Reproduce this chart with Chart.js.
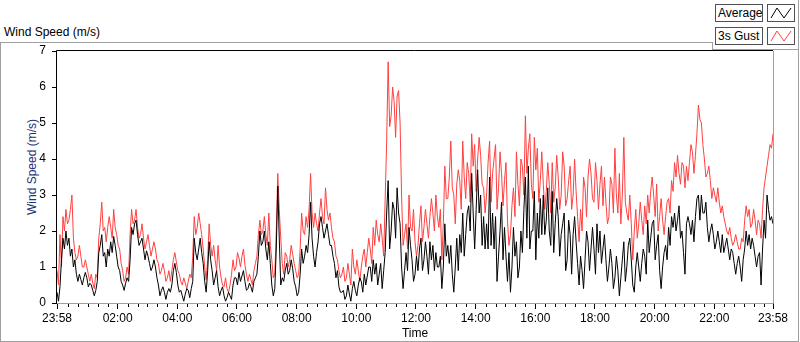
<!DOCTYPE html>
<html>
<head>
<meta charset="UTF-8">
<title>Wind Speed (m/s)</title>
<script src="https://cdn.jsdelivr.net/npm/chart.js"></script>
<style>
    body {
        margin: 0;
        width: 800px;
        height: 342px;
        position: relative;
        overflow: hidden;
        background: #fff;
        font-family: "Liberation Sans", Arial, sans-serif;
        font-size: 12px;
        color: #000;
    }
    #frame {
        position: absolute;
        left: 0; top: 42px;
        width: 799px; height: 300px;
        box-sizing: border-box;
        border: 1px solid #a0a0a0;
    }
    #legendPanel {
        position: absolute;
        left: 712px; top: 0;
        width: 87px; height: 50px;
        box-sizing: border-box;
        background: #fff;
        border-right: 1px solid #a0a0a0;
        border-bottom: 1px solid #a0a0a0;
    }
    #legendPanel .notch {
        position: absolute; left: 0; top: 42px; width: 1px; height: 7px; background: #a0a0a0;
    }
    .lbox {
        position: absolute;
        box-sizing: border-box;
        height: 18px;
        border: 1px solid #505050;
        background: #fff;
    }
    .lbox.text { width: 48px; padding-left: 2px; line-height: 16px; }
    .lbox.line { width: 28px; }
    #title { position: absolute; left: 4px; top: 25px; }
    #ytitle {
        position: absolute;
        left: 32px; top: 167px;
        transform: translate(-50%, -50%) rotate(-90deg);
        white-space: nowrap;
        color: #1c3278;
    }
    #chart { position: absolute; left: 0; top: 0; }
</style>
</head>
<body>
<div id="frame"></div>
<div id="title">Wind Speed (m/s)</div>
<div id="legendPanel">
    <div class="notch"></div>
    <div class="lbox text" style="left:3px; top:4px;">Average</div>
    <div class="lbox line" style="left:55px; top:4px;">
        <svg width="26" height="16"><polyline points="3,13 9,3 16,13 23,3" fill="none" stroke="#000" stroke-width="1"/></svg>
    </div>
    <div class="lbox text" style="left:3px; top:27px;">3s Gust</div>
    <div class="lbox line" style="left:55px; top:27px;">
        <svg width="26" height="16"><polyline points="3,13 9,3 16,13 23,3" fill="none" stroke="#ff4040" stroke-width="1"/></svg>
    </div>
</div>
<div id="ytitle">Wind Speed (m/s)</div>
<canvas id="chart" width="800" height="342"></canvas>
<script>
    // readings every 3 minutes, from 23:58 (minute 0) to 23:58 the next day (minute 1440)
    const STEP = 3;

    const average = [
        0.3,0.05, 0.45,1.2, 1.8,1.5, 2.0,1.6, 1.8,1.3, 1.5,1.0, 1.2,0.8, 0.6,0.8, 0.65,0.5, 0.7,0.85,
        0.7,0.45, 0.55,0.5, 0.35,0.2, 0.35,0.6, 1.4,1.6, 1.9,1.3, 1.4,1.0, 1.5,1.3, 1.7,1.4, 1.85,1.6,
        1.3,1.0, 0.9,0.6, 0.5,0.35, 0.55,0.7, 0.6,1.2, 2.1,1.9, 2.2,2.3, 1.9,1.6, 1.7,1.8, 1.5,1.2,
        1.45,1.3, 1.1,0.9, 1.0,1.2, 1.0,0.7, 0.5,0.2, 0.35,0.45, 0.3,0.1, 0.3,0.4, 0.3,0.5, 0.9,1.1,
        0.85,0.5, 0.3,0.35, 0.2,0.05, 0.25,0.4, 0.35,0.15, 0.4,0.6, 1.8,1.4, 1.2,1.5,
        1.8,1.4, 1.1,0.6, 0.3,0.9, 1.7,1.2, 0.9,0.5, 0.7,0.9, 0.45,0.2, 0.35,0.45, 0.2,0.05, 0.15,0.3,
        0.2,0.1, 0.5,0.7, 0.7,0.5, 0.85,0.6, 0.75,0.9, 0.6,0.35, 0.4,0.55, 0.45,0.3, 0.6,0.7, 0.8,1.3,
        2.0,1.6, 1.7,2.0, 1.5,1.2, 1.7,1.1, 0.5,0.2, 0.4,1.5, 3.25,1.8, 0.5,0.7, 0.6,0.9, 1.1,0.8,
        0.9,1.2, 0.95,0.6, 0.45,0.2, 0.3,0.8, 1.5,1.1, 1.3,1.6, 1.4,1.9, 2.8,1.8, 1.3,1.0, 1.4,1.7,
        2.2,2.4, 2.1,1.8, 2.0,2.2, 1.9,1.6, 1.6,1.3, 1.1,0.7, 0.9,0.45, 0.3,0.3,
        0.35,0.1, 0.2,0.5, 0.25,0.05, 0.4,0.6, 0.35,0.2, 0.5,0.7, 0.6,0.3, 0.8,0.5, 0.75,1.0, 1.0,0.6,
        1.2,0.8, 1.1,0.5, 0.8,1.1, 0.4,0.9, 1.4,2.5, 3.4,1.5, 2.0,2.8, 2.6,1.8, 3.2,2.5, 2.2,1.0,
        0.4,0.9, 1.4,0.9, 2.1,1.6, 1.2,0.6, 0.8,1.3, 0.9,1.5, 1.8,0.9, 1.2,1.7, 1.3,0.8, 1.7,1.2,
        1.6,0.9, 1.4,1.0, 1.0,1.3, 0.4,1.0, 2.2,1.3, 1.6,1.1, 1.6,0.8, 0.3,1.0, 1.8,0.9, 1.9,1.4,
        2.5,1.3, 1.9,2.5, 2.7,2.0, 3.6,2.5, 1.5,2.6, 3.7,2.5, 3.0,1.6, 2.4,1.5,
        2.2,1.5, 3.5,1.6, 2.5,1.5, 2.4,0.6, 1.3,2.0, 2.8,1.2, 2.1,1.3, 0.6,1.4, 0.3,1.0, 2.1,1.3,
        1.7,0.7, 1.0,2.0, 1.4,2.6, 3.5,1.8, 3.8,1.5, 2.0,2.0, 3.1,1.2, 2.5,1.8, 2.9,1.9, 3.0,1.9,
        2.3,3.2, 2.0,1.6, 3.1,1.4, 2.2,2.9, 2.4,1.3, 1.9,2.2, 2.5,0.9, 1.2,2.3, 1.9,0.8, 1.9,2.4,
        1.7,1.1, 0.5,1.3, 0.9,0.4, 1.2,2.0, 1.7,0.9, 1.5,2.1, 1.5,0.8, 2.2,1.4, 2.0,1.1, 1.5,1.9,
        1.2,0.6, 1.0,1.5, 1.1,0.4, 0.7,1.3, 0.9,0.2, 0.7,1.2, 1.7,0.6, 1.0,1.6,
        1.8,1.2, 0.5,0.3, 1.0,1.4, 1.0,0.6, 1.1,1.5, 1.3,0.8, 2.3,1.4, 1.8,2.2, 2.3,1.2, 1.6,1.9,
        0.9,0.4, 1.0,1.4, 1.6,1.2, 2.1,1.6, 2.4,2.1, 2.5,2.0, 2.3,2.7, 1.8,2.0, 1.4,0.8, 2.2,2.4,
        2.2,1.9, 2.3,1.7, 2.4,2.9, 3.0,2.3, 3.0,2.5, 2.5,2.8, 2.1,1.7, 2.0,2.2, 1.9,1.5, 1.7,2.0,
        1.7,1.4, 1.9,1.4, 1.6,1.8, 1.5,1.2, 1.5,1.4, 1.1,0.8, 1.1,1.3, 1.0,0.6, 1.2,1.5, 2.0,1.6,
        1.9,1.5, 1.8,1.6, 1.3,1.0, 1.3,1.4, 0.5,1.5, 2.3,1.8, 3.0,2.6, 2.3,2.4, 2.2
    ];

    const gust = [
        0.9,0.5, 1.9,1.0, 2.4,2.0, 2.6,2.2, 2.3,2.6, 3.0,1.8, 1.4,1.2, 1.3,1.6, 1.3,1.0, 1.0,1.2,
        1.0,0.8, 0.6,0.8, 0.55,0.4, 0.8,0.7, 1.8,2.2, 2.8,2.0, 2.1,1.7, 2.1,2.4, 2.1,1.8, 2.6,2.1,
        1.9,1.6, 1.5,1.1, 0.9,0.6, 0.7,1.0, 0.8,1.9, 2.6,2.2, 2.3,2.6, 2.1,1.8, 1.9,2.2, 1.8,1.5,
        1.7,1.9, 1.6,1.3, 1.5,1.7, 1.5,1.2, 1.1,0.8, 0.9,1.1, 0.9,0.6, 0.7,0.9, 0.6,0.9, 1.2,1.4,
        1.15,0.9, 0.8,0.6, 0.5,0.7, 0.55,0.4, 0.6,0.8, 0.7,1.3, 2.4,1.9, 2.1,2.5,
        2.2,1.9, 1.5,1.0, 0.65,1.2, 2.2,1.6, 1.3,1.6, 1.2,0.9, 1.6,1.0, 0.7,0.5, 0.45,0.7, 0.4,0.3,
        0.5,0.8, 1.2,0.9, 1.0,1.4, 1.25,1.0, 1.3,1.5, 1.05,0.8, 0.6,0.8, 0.65,0.5, 0.9,1.1, 1.3,1.9,
        2.3,1.9, 2.0,2.4, 1.9,1.6, 2.5,1.6, 1.2,0.7, 0.8,2.0, 3.6,2.6, 1.8,1.1, 0.8,1.4, 1.3,1.0,
        1.2,1.6, 1.35,1.1, 0.9,0.7, 0.8,1.5, 2.5,2.0, 1.9,2.4, 2.1,2.6, 3.6,2.5, 2.1,2.5, 2.2,2.0,
        2.5,2.9, 2.4,2.2, 3.2,2.6, 2.3,2.5, 2.1,1.8, 1.7,1.3, 1.2,0.9, 0.7,0.8,
        1.0,0.6, 0.7,1.1, 0.8,0.5, 1.5,1.0, 0.8,1.2, 0.9,0.6, 1.0,1.3, 1.5,1.0, 1.4,1.8, 1.5,1.1,
        2.1,1.6, 2.3,1.9, 1.7,2.2, 1.8,1.3, 2.9,4.5, 6.7,4.9, 5.2,6.0, 5.6,4.6, 5.75,5.9, 5.0,3.0,
        1.6,1.9, 2.2,1.5, 3.0,2.1, 2.0,2.6, 1.7,1.3, 1.6,2.2, 2.7,1.7, 2.1,2.6, 2.2,1.8, 2.4,2.9,
        2.5,2.0, 3.0,2.4, 2.1,2.6, 1.2,2.2, 3.8,2.9, 2.9,3.5, 4.5,3.2, 3.0,2.2, 3.3,3.7, 3.4,2.6,
        4.5,3.5, 2.9,3.9, 3.6,2.8, 4.7,3.8, 4.4,3.1, 4.0,4.6, 4.1,3.3, 3.2,2.5,
        3.0,3.9, 4.5,2.8, 3.6,4.0, 4.4,2.6, 3.2,4.2, 3.6,2.7, 3.4,3.9, 2.3,1.6, 1.9,2.7, 3.2,2.4,
        4.2,3.3, 2.7,4.0, 3.8,3.0, 5.2,3.6, 4.3,4.7, 3.3,2.9, 4.6,3.7, 4.3,2.8, 3.4,4.2, 3.3,2.6,
        3.1,3.9, 3.3,2.5, 3.9,2.8, 3.2,4.1, 3.5,2.6, 3.0,4.2, 3.8,2.7, 2.9,3.4, 3.8,2.6, 3.0,4.0,
        3.1,2.4, 1.7,2.6, 2.0,3.5, 3.2,2.4, 3.5,4.0, 3.6,2.9, 2.8,3.9, 3.4,2.6, 3.3,3.8, 2.7,3.5,
        2.8,2.2, 2.4,3.5, 3.3,2.5, 4.3,3.0, 2.5,3.6, 2.2,3.0, 4.6,2.8, 2.5,2.3,
        3.0,2.2, 1.2,2.0, 2.6,1.8, 2.2,2.8, 2.3,1.9, 2.7,2.2, 3.0,2.5, 3.1,3.5, 3.0,2.4, 3.3,2.0,
        2.4,2.9, 2.3,1.9, 2.4,2.8, 2.9,2.5, 3.4,3.1, 3.9,3.5, 4.1,3.6, 3.3,3.9, 3.8,3.2, 3.8,3.4,
        3.9,4.4, 4.2,3.6, 4.1,4.7, 5.5,5.1, 5.0,4.4, 4.0,3.5, 3.6,3.8, 3.4,2.9, 3.2,3.0, 2.8,3.2,
        2.8,2.5, 2.7,2.4, 2.2,2.0, 1.9,2.1, 1.8,1.6, 1.7,1.9, 1.7,1.5, 1.5,1.8, 1.7,2.3, 2.7,2.4,
        2.6,2.1, 2.2,2.6, 2.3,1.9, 2.3,2.2, 1.8,2.6, 3.2,3.5, 3.8,4.1, 4.4,4.3, 4.7
    ];

    // x ticks in minutes after 23:58
    const majorTicks = [0, 122, 242, 362, 482, 602, 722, 842, 962, 1082, 1202, 1322, 1440];
    const majorLabels = ['23:58', '02:00', '04:00', '06:00', '08:00', '10:00', '12:00',
                         '14:00', '16:00', '18:00', '20:00', '22:00', '23:58'];
    const yTicks = [0, 1, 2, 3, 4, 5, 6, 7];

    const fontSpec = { family: '"Liberation Sans", Arial, sans-serif', size: 12 };

    function toPoints(arr) {
        return arr.map(function(v, i) { return { x: i * STEP, y: v }; });
    }

    // minor ticks every 20 minutes between the labelled ones, plus plot frame
    const frameAndMinor = {
        id: 'frameAndMinor',
        afterDraw(chart) {
            const ctx = chart.ctx;
            const a = chart.chartArea;
            const xs = chart.scales.x;
            ctx.save();
            ctx.strokeStyle = '#000';
            ctx.lineWidth = 1;
            ctx.beginPath();
            for (let m = 22; m < 1440; m += 20) {
                if (majorTicks.indexOf(m) !== -1 || m < 6 || m > 1434) continue;
                const px = Math.round(xs.getPixelForValue(m)) + 0.5;
                ctx.moveTo(px, a.bottom);
                ctx.lineTo(px, a.bottom + 4);
            }
            ctx.stroke();
            // sunken frame: dark top/left, light bottom/right
            ctx.beginPath();
            ctx.strokeStyle = '#000';
            ctx.moveTo(a.left - 0.5, a.bottom);
            ctx.lineTo(a.left - 0.5, a.top - 0.5);
            ctx.lineTo(a.right, a.top - 0.5);
            ctx.stroke();
            ctx.beginPath();
            ctx.strokeStyle = '#a0a0a0';
            ctx.moveTo(a.left, a.bottom + 0.5);
            ctx.lineTo(a.right + 0.5, a.bottom + 0.5);
            ctx.lineTo(a.right + 0.5, a.top);
            ctx.stroke();
            ctx.restore();
        }
    };

    new Chart(document.getElementById('chart').getContext('2d'), {
        type: 'line',
        data: {
            datasets: [{
                label: 'Average',
                data: toPoints(average),
                borderColor: '#000000',
                borderWidth: 1,
                pointRadius: 0,
                tension: 0
            }, {
                label: '3s Gust',
                data: toPoints(gust),
                borderColor: '#ff4040',
                borderWidth: 1,
                pointRadius: 0,
                tension: 0
            }]
        },
        options: {
            responsive: false,
            animation: false,
            layout: { padding: { left: 21, right: 27, top: 51, bottom: 0 } },
            plugins: {
                legend: { display: false },
                tooltip: { enabled: false }
            },
            scales: {
                x: {
                    type: 'linear',
                    min: 0,
                    max: 1440,
                    afterBuildTicks: function(scale) {
                        scale.ticks = majorTicks.map(function(v) { return { value: v }; });
                    },
                    afterFit: function(scale) { scale.height = 39; },
                    ticks: {
                        autoSkip: false,
                        maxRotation: 0,
                        color: '#000',
                        font: fontSpec,
                        padding: 2,
                        callback: function(value, index) { return majorLabels[index]; }
                    },
                    grid: { drawOnChartArea: false, tickLength: 6, color: '#000' },
                    border: { display: false },
                    title: {
                        display: true,
                        text: 'Time',
                        color: '#000',
                        font: fontSpec,
                        padding: { top: 0, bottom: 1 }
                    }
                },
                y: {
                    min: 0,
                    max: 7,
                    afterBuildTicks: function(scale) {
                        scale.ticks = yTicks.map(function(v) { return { value: v }; });
                    },
                    afterFit: function(scale) { scale.width = 36; },
                    ticks: { color: '#000', font: fontSpec, padding: 6 },
                    grid: { drawOnChartArea: false, tickLength: 5, color: '#000' },
                    border: { display: false }
                }
            }
        },
        plugins: [frameAndMinor]
    });
</script>
</body>
</html>
